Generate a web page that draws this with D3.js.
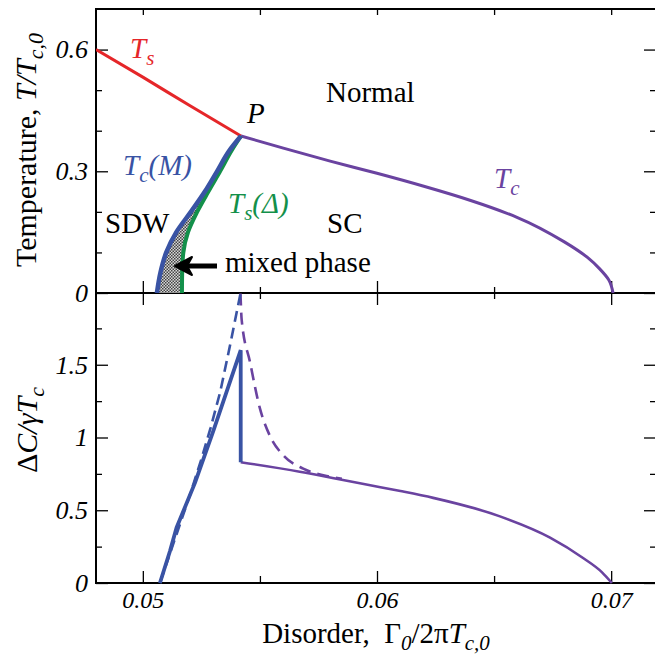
<!DOCTYPE html>
<html><head><meta charset="utf-8">
<script src="https://cdn.jsdelivr.net/npm/d3@7"></script>
<style>
body{margin:0;background:#fff;}
text{font-family:"Liberation Serif","Times New Roman",Times,serif;}
</style></head>
<body><svg id="c" width="655" height="657"></svg>
<script>
// ---- data ----
// top panel: Ts (red)
const tsX = [0.0480, 0.0500, 0.0520, 0.05419];
const tsT = [0.600, 0.532, 0.462, 0.387];
// top panel: Tc (purple)
const tcX = [0.05419, 0.0560, 0.0580, 0.0600, 0.0620, 0.0640, 0.0660, 0.0680, 0.0690, 0.0695, 0.06990, 0.07008];
const tcT = [0.387, 0.357, 0.325, 0.295, 0.263, 0.228, 0.186, 0.126, 0.087, 0.060, 0.032, 0.0];
// top panel: Tc(M) (blue) and Ts(Delta) (green), sampled on same T grid
const phT  = [0, 0.05, 0.10, 0.15, 0.20, 0.25, 0.30, 0.35, 0.387];
const tcmX = [0.05060, 0.05075, 0.05100, 0.05143, 0.05205, 0.05265, 0.05317, 0.05368, 0.05419];
const tsdX = [0.05167, 0.05168, 0.05173, 0.05193, 0.05232, 0.05280, 0.05330, 0.05378, 0.05419];
// bottom panel: specific heat jump
const cmX  = [0.05073, 0.05116, 0.05144, 0.05223, 0.05300, 0.05418, 0.05418];
const cmY  = [0, 0.22, 0.38, 0.69, 1.04, 1.60, 0.83];
const cmdX = [0.05073, 0.05200, 0.05250, 0.05290, 0.05330, 0.05372, 0.05417];
const cmdY = [0, 0.60, 0.85, 1.07, 1.31, 1.63, 1.99];
const csX  = [0.05418, 0.0567, 0.0581, 0.0596, 0.0610, 0.0624, 0.06525, 0.06739, 0.0688, 0.0696, 0.07003];
const csY  = [0.83, 0.765, 0.722, 0.675, 0.632, 0.585, 0.458, 0.312, 0.172, 0.075, 0.0];
const csdX = [0.05417, 0.05422, 0.05458, 0.05500, 0.05543, 0.05600, 0.05685, 0.05799, 0.0585];
const csdY = [1.99, 1.81, 1.516, 1.20, 1.01, 0.877, 0.786, 0.731, 0.716];
// ticks
const xMajor = [0.05, 0.06, 0.07], xMinor = [0.055, 0.065];
const xTickLabels = ["0.05", "0.06", "0.07"];
const tMajor = [0, 0.3, 0.6], tMinor = [0.1, 0.2, 0.4, 0.5];
const tTickLabels = ["0", "0.3", "0.6"];
const cMajor = [0, 0.5, 1, 1.5], cMinor = [0.25, 0.75, 1.25, 1.75];
const cTickLabels = ["0", "0.5", "1", "1.5"];

const RED = "#e52629", PURPLE = "#6a43a0", BLUE = "#3953a4", GREEN = "#13904a";

const svg = d3.select("#c");
const L = 96, R = 658, T0 = 9, MID = 293, B = 583;
const x = d3.scaleLinear().domain([0.048, 0.072]).range([L, R]);
const yT = d3.scaleLinear().domain([0, 0.7]).range([MID, T0]);
const yC = d3.scaleLinear().domain([0, 2]).range([B, 292]);

const defs = svg.append("defs");
const pat = defs.append("pattern").attr("id","chk").attr("width",3).attr("height",3).attr("patternUnits","userSpaceOnUse");
pat.append("rect").attr("width",3).attr("height",3).attr("fill","#d8d8d8");
pat.append("rect").attr("width",1.5).attr("height",1.5).attr("fill","#444");
pat.append("rect").attr("x",1.5).attr("y",1.5).attr("width",1.5).attr("height",1.5).attr("fill","#444");
const clip = defs.append("clipPath").attr("id","clipT");
clip.append("rect").attr("x",L).attr("y",T0).attr("width",R-L).attr("height",MID-T0);

const zip = (a,b) => a.map((v,i)=>[v,b[i]]);

// ---- axes ----
function styleAxis(fs){ return g => { g.select(".domain").remove(); g.selectAll("line").attr("stroke","#000").attr("stroke-width",1.3);
  g.selectAll("text").attr("font-size",fs||24).attr("font-style","italic").attr("fill","#000").attr("font-family","Liberation Serif"); }; }
const RA = R-1;
// top panel
svg.append("g").attr("transform",`translate(${L},0)`).call(d3.axisLeft(yT).tickValues(tMajor).tickSize(-12).tickPadding(8).tickFormat((d,i)=>tTickLabels[i])).call(styleAxis(26));
svg.append("g").attr("transform",`translate(${L},0)`).call(d3.axisLeft(yT).tickValues(tMinor).tickSize(-6).tickFormat("")).call(styleAxis());
svg.append("g").attr("transform",`translate(${RA},0)`).call(d3.axisRight(yT).tickValues(tMajor).tickSize(-13).tickFormat("")).call(styleAxis());
svg.append("g").attr("transform",`translate(${RA},0)`).call(d3.axisRight(yT).tickValues(tMinor).tickSize(-7).tickFormat("")).call(styleAxis());
svg.append("g").attr("transform",`translate(0,${T0})`).call(d3.axisTop(x).tickValues(xMajor.concat(xMinor)).tickSize(-6).tickFormat("")).call(styleAxis());
svg.append("g").attr("transform",`translate(0,${MID})`).call(d3.axisBottom(x).tickValues(xMajor).tickSize(-12).tickFormat("")).call(styleAxis());
svg.append("g").attr("transform",`translate(0,${MID})`).call(d3.axisBottom(x).tickValues(xMinor).tickSize(-6).tickFormat("")).call(styleAxis());
// bottom panel
svg.append("g").attr("transform",`translate(${L},0)`).call(d3.axisLeft(yC).tickValues(cMajor).tickSize(-12).tickPadding(8).tickFormat((d,i)=>cTickLabels[i])).call(styleAxis(26));
svg.append("g").attr("transform",`translate(${L},0)`).call(d3.axisLeft(yC).tickValues(cMinor).tickSize(-6).tickFormat("")).call(styleAxis());
svg.append("g").attr("transform",`translate(${RA},0)`).call(d3.axisRight(yC).tickValues(cMajor).tickSize(-13).tickFormat("")).call(styleAxis());
svg.append("g").attr("transform",`translate(${RA},0)`).call(d3.axisRight(yC).tickValues(cMinor).tickSize(-7).tickFormat("")).call(styleAxis());
svg.append("g").attr("transform",`translate(0,${MID})`).call(d3.axisTop(x).tickValues(xMajor).tickSize(-12).tickFormat("")).call(styleAxis());
svg.append("g").attr("transform",`translate(0,${MID})`).call(d3.axisTop(x).tickValues(xMinor).tickSize(-6).tickFormat("")).call(styleAxis());
svg.append("g").attr("transform",`translate(0,${B})`).call(d3.axisBottom(x).tickValues(xMajor).tickSize(-12).tickPadding(8).tickFormat((d,i)=>xTickLabels[i])).call(styleAxis(24));
svg.append("g").attr("transform",`translate(0,${B})`).call(d3.axisBottom(x).tickValues(xMinor).tickSize(-7).tickFormat("")).call(styleAxis());

// frame
svg.append("rect").attr("x",L).attr("y",T0).attr("width",RA-L).attr("height",B-T0).attr("fill","none").attr("stroke","#000").attr("stroke-width",2);
svg.append("line").attr("x1",L).attr("x2",R).attr("y1",MID).attr("y2",MID).attr("stroke","#000").attr("stroke-width",2);

// ---- top panel ----
const gT = svg.append("g").attr("clip-path","url(#clipT)");
const phase = phT.map((t,i)=>({t, a:tcmX[i], b:tsdX[i]}));
gT.append("path").datum(phase).attr("fill","url(#chk)")
  .attr("d", d3.area().y(d=>yT(d.t)).x0(d=>x(d.a)).x1(d=>x(d.b)).curve(d3.curveMonotoneY));
const lineXY = (ys) => d3.line().x(d=>x(d[0])).y(d=>ys(d[1]));
gT.append("path").datum(zip(tsX,tsT)).attr("fill","none").attr("stroke",RED).attr("stroke-width",3)
  .attr("d", lineXY(yT).curve(d3.curveMonotoneX));
gT.append("path").datum(zip(tcX,tcT)).attr("fill","none").attr("stroke",PURPLE).attr("stroke-width",3)
  .attr("d", lineXY(yT).curve(d3.curveMonotoneY));
gT.append("path").datum(zip(tsdX,phT)).attr("fill","none").attr("stroke",GREEN).attr("stroke-width",4)
  .attr("d", lineXY(yT).curve(d3.curveMonotoneY));
gT.append("path").datum(zip(tcmX,phT)).attr("fill","none").attr("stroke",BLUE).attr("stroke-width",4.5)
  .attr("d", lineXY(yT).curve(d3.curveMonotoneY));

// ---- bottom panel ----
svg.append("path").datum(zip(csdX,csdY)).attr("fill","none").attr("stroke",PURPLE).attr("stroke-width",2.6).attr("stroke-dasharray","12,7")
  .attr("d", lineXY(yC).curve(d3.curveMonotoneX));
svg.append("path").datum(zip(cmdX,cmdY)).attr("fill","none").attr("stroke",BLUE).attr("stroke-width",2.6).attr("stroke-dasharray","11,6")
  .attr("d", lineXY(yC));
svg.append("path").datum(zip(csX,csY)).attr("fill","none").attr("stroke",PURPLE).attr("stroke-width",2.6)
  .attr("d", lineXY(yC).curve(d3.curveMonotoneX));
svg.append("path").datum(zip(cmX,cmY)).attr("fill","none").attr("stroke",BLUE).attr("stroke-width",3.8)
  .attr("d", lineXY(yC));

// ---- annotations ----
function rich(parent, parts, attrs){
  const t = parent.append("text");
  Object.entries(attrs).forEach(([k,v])=>t.attr(k,v));
  parts.forEach(p=>{
    const s = t.append("tspan").text(p.t);
    if(p.i) s.attr("font-style","italic");
    if(p.fs) s.attr("font-size", p.fs);
    if(p.dy) s.attr("dy", p.dy);
  });
  return t;
}
const FS = 29, SFS = 21;
rich(svg,[{t:"T",i:1},{t:"s",i:1,fs:SFS,dy:7}],{x:130,y:58,fill:RED,"font-size":FS});
rich(svg,[{t:"P",i:1}],{x:247,y:123,fill:"#000","font-size":FS});
rich(svg,[{t:"Normal"}],{x:326,y:102,fill:"#000","font-size":FS});
rich(svg,[{t:"T",i:1},{t:"c",i:1,fs:SFS,dy:7},{t:"(M)",i:1,dy:-7}],{x:123,y:175,fill:BLUE,"font-size":FS});
rich(svg,[{t:"SDW"}],{x:105,y:233,fill:"#000","font-size":FS});
rich(svg,[{t:"T",i:1},{t:"s",i:1,fs:SFS,dy:7},{t:"(Δ)",i:1,dy:-7}],{x:228,y:213,fill:GREEN,"font-size":FS});
rich(svg,[{t:"SC"}],{x:327,y:233,fill:"#000","font-size":FS});
rich(svg,[{t:"mixed phase"}],{x:225,y:272,fill:"#000","font-size":FS});
rich(svg,[{t:"T",i:1},{t:"c",i:1,fs:SFS,dy:7}],{x:494,y:188,fill:PURPLE,"font-size":FS});
// arrow
const ay = 266;
svg.append("line").attr("x1",217).attr("x2",186).attr("y1",ay).attr("y2",ay).attr("stroke","#000").attr("stroke-width",5);
svg.append("path").attr("d",`M175,${ay} L192,${ay-9} L187,${ay} L192,${ay+9} Z`).attr("fill","#000").attr("stroke","#000").attr("stroke-width",2).attr("stroke-linejoin","round");

// axis titles
rich(svg,[{t:"Temperature, "},{t:"T/T",i:1},{t:"c,0",i:1,fs:22,dy:7}],{transform:"translate(36,150) rotate(-90)","text-anchor":"middle",fill:"#000","font-size":30});
rich(svg,[{t:"Δ"},{t:"C/γT",i:1},{t:"c",i:1,fs:22,dy:7}],{transform:"translate(37,430) rotate(-90)","text-anchor":"middle",fill:"#000","font-size":30});
rich(svg,[{t:"Disorder,  "},{t:"Γ"},{t:"0",i:1,fs:21,dy:7},{t:"/2π",dy:-7},{t:"T",i:1},{t:"c,0",i:1,fs:21,dy:7}],{x:376,y:643,"text-anchor":"middle",fill:"#000","font-size":29,"xml:space":"preserve"});
</script></body></html>
